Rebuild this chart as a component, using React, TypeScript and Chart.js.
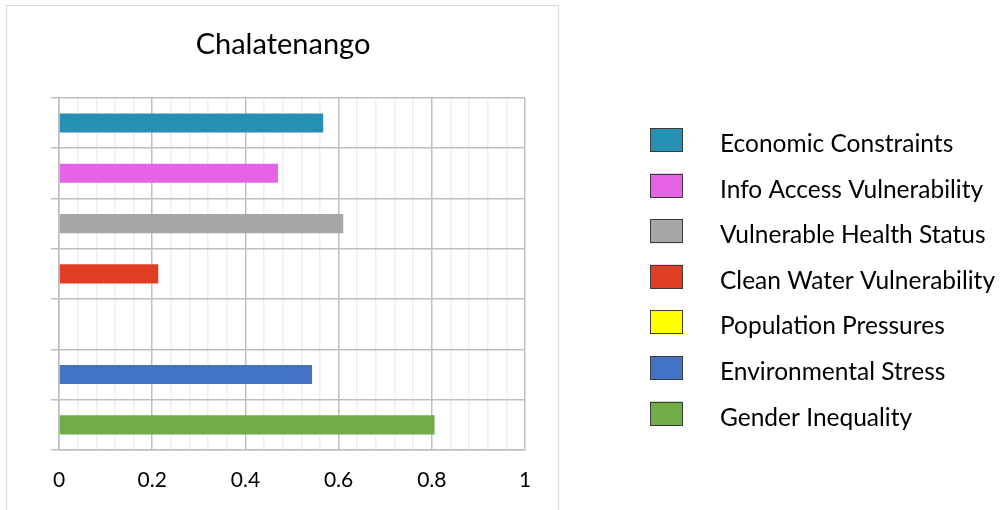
import React, { useEffect, useRef } from 'react';
import { Chart, registerables } from 'chart.js';

Chart.register(...registerables);

const chartTitle = 'Chalatenango';
const categories = [
  'Economic Constraints',
  'Info Access Vulnerability',
  'Vulnerable Health Status',
  'Clean Water Vulnerability',
  'Population Pressures',
  'Environmental Stress',
  'Gender Inequality',
];
const values = [0.567, 0.47, 0.61, 0.213, 0, 0.543, 0.806];
const colors = ['#2590B3', '#E564E5', '#A6A6A6', '#E03D22', '#FFFF00', '#4472C4', '#70AD47'];
const xMajorTicks = [0, 0.2, 0.4, 0.6, 0.8, 1];
const xTickLabels = ['0', '0.2', '0.4', '0.6', '0.8', '1'];
const minorDivisions = 5;

const FONT = 'Lato, Carlito, "Open Sans", sans-serif';

const framePlugin = {
  id: 'frame',
  beforeDraw(chart: any) {
    const ctx = chart.ctx;
    ctx.save();
    ctx.fillStyle = '#ffffff';
    ctx.fillRect(0, 0, chart.width, chart.height);
    ctx.strokeStyle = '#d9d9d9';
    ctx.lineWidth = 1;
    ctx.strokeRect(6.5, 5.5, 552, 600);
    ctx.restore();
  },
};

const sideLegendPlugin = {
  id: 'sideLegend',
  afterDraw(chart: any) {
    const ctx = chart.ctx;
    const labels: string[] = chart.data.labels;
    const bg: string[] = chart.data.datasets[0].backgroundColor;
    ctx.save();
    ctx.font = `24.5px ${FONT}`;
    ctx.textBaseline = 'alphabetic';
    ctx.textAlign = 'left';
    labels.forEach((label, i) => {
      const top = 128 + i * 45.6;
      ctx.fillStyle = bg[i];
      ctx.fillRect(650, top, 33, 24);
      ctx.strokeStyle = '#3c3c3c';
      ctx.lineWidth = 1;
      ctx.strokeRect(650.5, Math.round(top) + 0.5, 32, 23);
      ctx.fillStyle = '#000000';
      ctx.fillText(label, 720, top + 24);
    });
    ctx.restore();
  },
};

export default function App() {
  const canvasRef = useRef<HTMLCanvasElement | null>(null);

  useEffect(() => {
    let chart: Chart | null = null;
    let cancelled = false;
    const make = () => {
      if (cancelled || !canvasRef.current) return;
      chart = new Chart(canvasRef.current, {
        type: 'bar',
        data: {
          labels: categories,
          datasets: [
            {
              data: values,
              backgroundColor: colors,
              borderWidth: 0,
              barPercentage: 0.38,
              categoryPercentage: 1,
            },
          ],
        },
        options: {
          indexAxis: 'y',
          animation: false,
          responsive: false,
          maintainAspectRatio: false,
          layout: { padding: { left: 41, right: 476, top: 0, bottom: 0 } },
          plugins: {
            legend: { display: false },
            tooltip: { enabled: false },
            title: {
              display: true,
              text: chartTitle,
              color: '#000000',
              font: { family: FONT, size: 29, weight: 'normal' },
              padding: { top: 27, bottom: 36 },
            },
          },
          scales: {
            x: {
              type: 'linear',
              min: 0,
              max: 1,
              afterFit: (scale: any) => {
                scale.height = 60;
              },
              afterBuildTicks: (scale: any) => {
                const t: any[] = [];
                for (let i = 0; i < xMajorTicks.length; i++) {
                  t.push({ value: xMajorTicks[i], major: true });
                  if (i < xMajorTicks.length - 1) {
                    const a = xMajorTicks[i];
                    const b = xMajorTicks[i + 1];
                    for (let k = 1; k < minorDivisions; k++) {
                      t.push({ value: a + ((b - a) * k) / minorDivisions, major: false });
                    }
                  }
                }
                scale.ticks = t;
              },
              ticks: {
                autoSkip: false,
                maxRotation: 0,
                padding: 18,
                color: '#000000',
                font: { family: FONT, size: 21 },
                callback: (value: any) => {
                  const idx = xMajorTicks.findIndex((m) => Math.abs(m - Number(value)) < 1e-6);
                  return idx >= 0 ? xTickLabels[idx] : '';
                },
              },
              grid: {
                drawTicks: false,
                color: (c: any) => (c.tick && c.tick.major ? '#bfbfbf' : '#eeeeee'),
                lineWidth: 1.5,
              },
              border: { display: true, color: '#bfbfbf', width: 1.5 },
            },
            y: {
              type: 'category',
              offset: true,
              afterFit: (scale: any) => {
                scale.width = 18;
              },
              ticks: { display: false },
              grid: {
                offset: true,
                drawTicks: true,
                tickLength: 8,
                color: '#bfbfbf',
                lineWidth: 1.5,
              },
              border: { display: true, color: '#bfbfbf', width: 1.5 },
            },
          },
        },
        plugins: [framePlugin, sideLegendPlugin],
      } as any);
    };
    const fontsApi: any = (document as any).fonts;
    if (fontsApi && fontsApi.load) {
      Promise.all([fontsApi.load(`24px Lato`), fontsApi.load(`29px Lato`)])
        .catch(() => null)
        .then(make);
    } else {
      make();
    }
    return () => {
      cancelled = true;
      if (chart) chart.destroy();
    };
  }, []);

  return (
    <div style={{ position: 'absolute', left: 0, top: 0, width: 1001, height: 510, overflow: 'hidden', background: '#fff' }}>
      <canvas ref={canvasRef} width={1001} height={510} style={{ width: 1001, height: 510, display: 'block' }} />
    </div>
  );
}
